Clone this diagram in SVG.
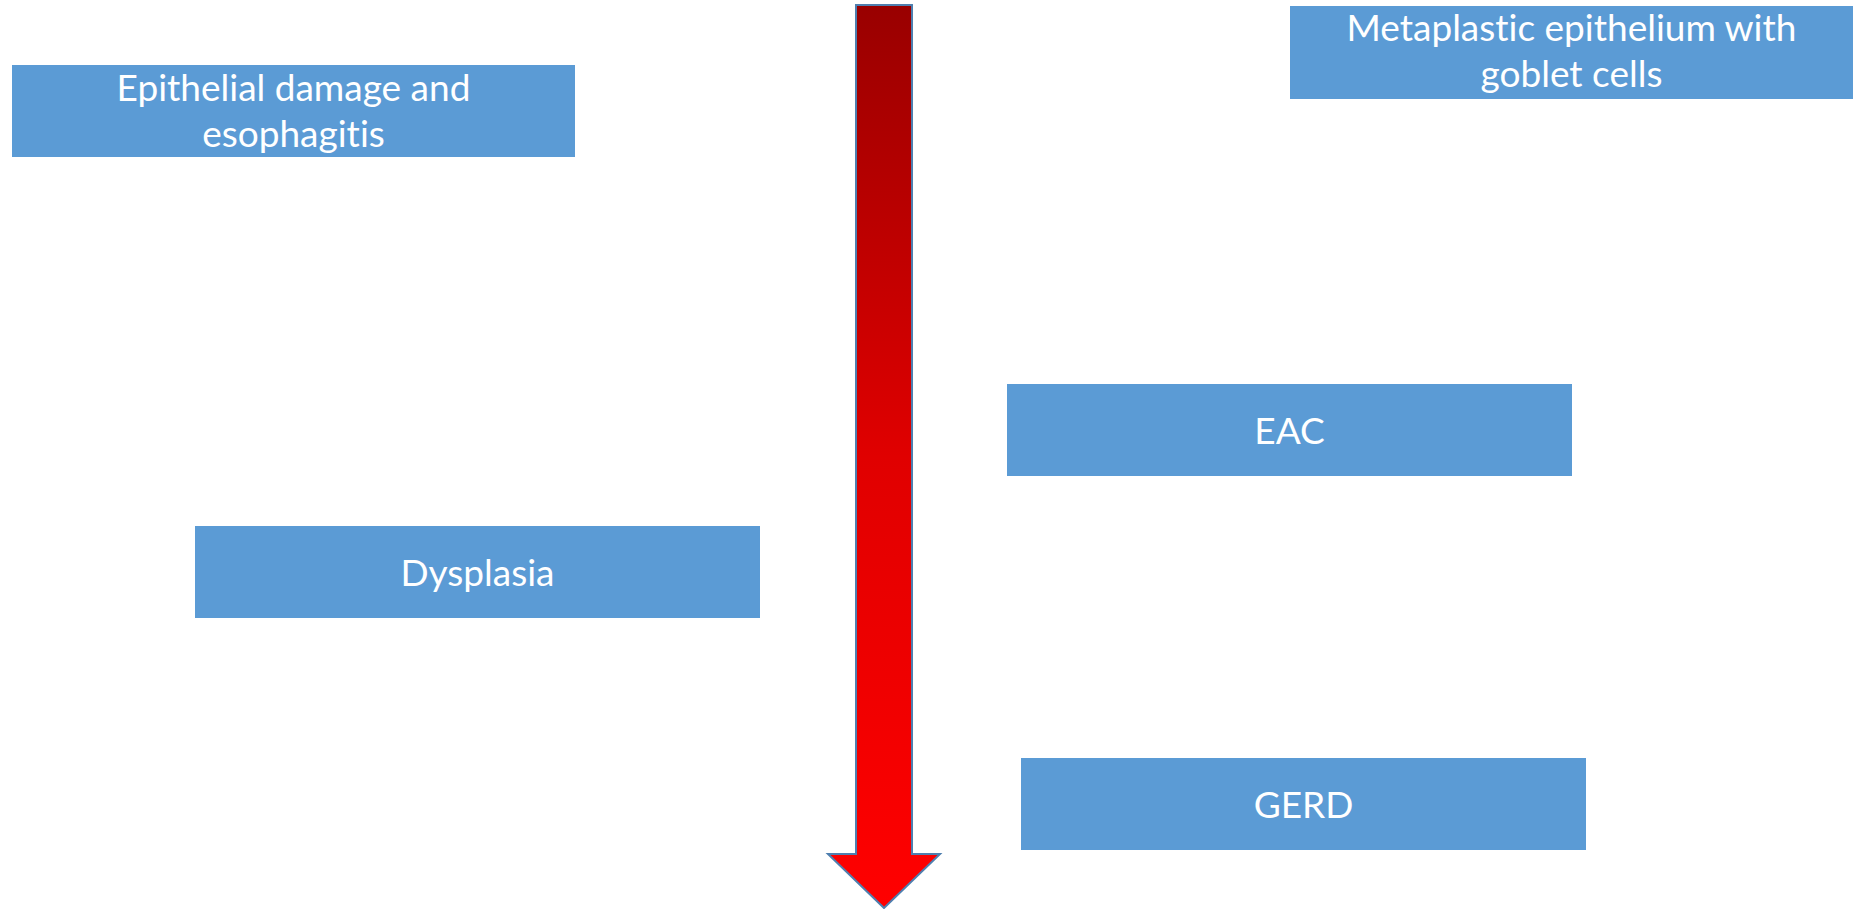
<svg xmlns="http://www.w3.org/2000/svg" width="1856" height="909" viewBox="0 0 1856 909">
<defs>
<linearGradient id="arrowGrad" x1="0" y1="0" x2="0" y2="1">
<stop offset="0" stop-color="#990000"/>
<stop offset="0.5" stop-color="#E00000"/>
<stop offset="1" stop-color="#FF0000"/>
</linearGradient>
</defs>
<style>
.box{fill:#5B9BD5;}
.lbl{fill:#FFFFFF;font-family:Lato,"Open Sans","Liberation Sans",sans-serif;font-size:37px;text-anchor:middle;font-variant-ligatures:none;font-feature-settings:"liga" 0;}
</style>
<rect width="1856" height="909" fill="#FFFFFF"/>
<g id="connectors">
<polygon points="856,5 912,5 912,854 940,854 884,908 828,854 856,854" fill="url(#arrowGrad)" stroke="#4F7FAF" stroke-width="2" stroke-linejoin="miter"/>
</g>
<g id="node-epithelial">
<rect class="box" x="12" y="65" width="563" height="92"/>
<text class="lbl" x="293.5" y="101">Epithelial damage and</text>
<text class="lbl" x="293.5" y="147">esophagitis</text>
</g>
<g id="node-metaplastic">
<rect class="box" x="1290" y="6" width="563" height="93"/>
<text class="lbl" x="1571.5" y="41">Metaplastic epithelium with</text>
<text class="lbl" x="1571.5" y="87">goblet cells</text>
</g>
<g id="node-eac">
<rect class="box" x="1007" y="384" width="565" height="92"/>
<text class="lbl" x="1289.5" y="444">EAC</text>
</g>
<g id="node-dysplasia">
<rect class="box" x="195" y="526" width="565" height="92"/>
<text class="lbl" x="477.5" y="586">Dysplasia</text>
</g>
<g id="node-gerd">
<rect class="box" x="1021" y="758" width="565" height="92"/>
<text class="lbl" x="1303.5" y="818">GERD</text>
</g>
</svg>
